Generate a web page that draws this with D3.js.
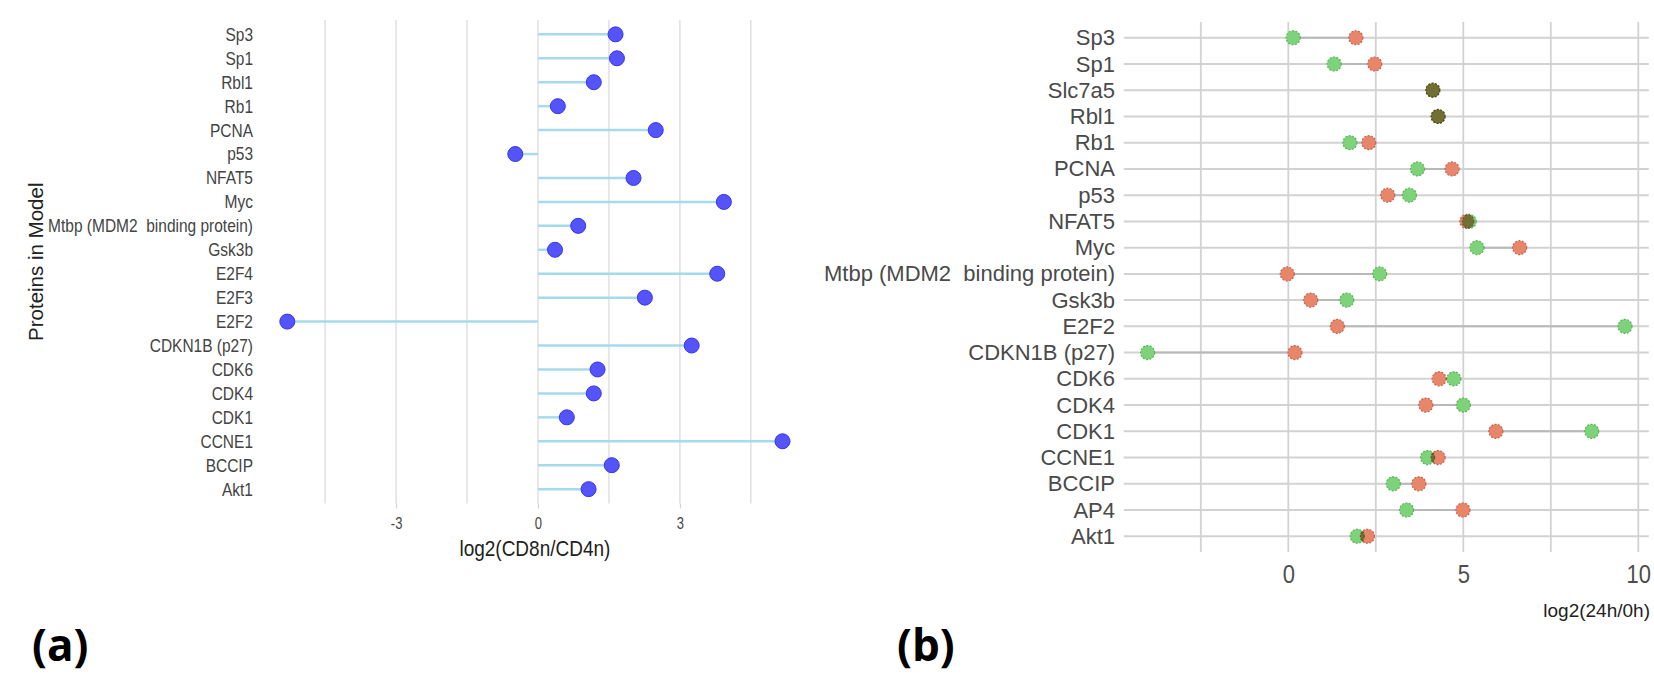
<!DOCTYPE html>
<html>
<head>
<meta charset="utf-8">
<script src="https://cdn.jsdelivr.net/npm/d3@7"></script>
<style>
  body { margin: 0; background: #fff; }
  svg { font-family: "Liberation Sans", Arial, sans-serif; }
</style>
</head>
<body>
<div id="chart"></div>
<script>
// panel (a): lollipop of log2(CD8n/CD4n)
const proteinsA = ["Sp3", "Sp1", "Rbl1", "Rb1", "PCNA", "p53", "NFAT5", "Myc",
    "Mtbp (MDM2  binding protein)", "Gsk3b", "E2F4", "E2F3", "E2F2", "CDKN1B (p27)",
    "CDK6", "CDK4", "CDK1", "CCNE1", "BCCIP", "Akt1"]
const ratioA = [1.64, 1.67, 1.18, 0.42, 2.49, -0.48, 2.02, 3.93, 0.85, 0.36,
    3.79, 2.26, -5.30, 3.25, 1.26, 1.18, 0.61, 5.17, 1.56, 1.07]
const ticksA = [-3, 0, 3]
const gridA = [-4.5, -3, -1.5, 0, 1.5, 3, 4.5]

// panel (b): dumbbell of log2(24h/0h)
const proteinsB = ["Sp3", "Sp1", "Slc7a5", "Rbl1", "Rb1", "PCNA", "p53", "NFAT5", "Myc",
    "Mtbp (MDM2  binding protein)", "Gsk3b", "E2F2", "CDKN1B (p27)", "CDK6", "CDK4",
    "CDK1", "CCNE1", "BCCIP", "AP4", "Akt1"]
const greenB = [0.14, 1.31, 4.13, 4.28, 1.76, 3.69, 3.46, 5.17, 5.39, 2.61,
    1.67, 9.62, -4.02, 4.73, 5.00, 8.67, 3.98, 3.00, 3.38, 1.97]
const redB = [1.93, 2.47, 4.13, 4.28, 2.30, 4.68, 2.84, 5.10, 6.61, -0.03,
    0.64, 1.40, 0.19, 4.31, 3.93, 5.93, 4.28, 3.73, 4.99, 2.26]
const ticksB = [0, 5, 10]
const gridB = [-2.5, 0, 2.5, 5, 7.5, 10]

const width = 1654, height = 675

const svg = d3.select("#chart").append("svg")
    .attr("width", width)
    .attr("height", height)

// ---- panel (a)
const xA = d3.scaleLinear().domain([-5.82, 5.69]).range([262.7, 807.1])
const yA = d3.scalePoint().domain(proteinsA).range([20, 503.5]).padding(0.6)
const [topA, bottomA] = yA.range()

svg.append("g")
    .selectAll("line")
    .data(gridA)
    .join("line")
    .attr("x1", d => xA(d)).attr("x2", d => xA(d))
    .attr("y1", topA).attr("y2", bottomA)
    .attr("stroke", "#e2e2e2")
    .attr("stroke-width", 1.6)

const rowsA = proteinsA.map((name, i) => ({ name, value: ratioA[i] }))

svg.append("g")
    .selectAll("line")
    .data(rowsA)
    .join("line")
    .attr("x1", xA(0)).attr("x2", d => xA(d.value))
    .attr("y1", d => yA(d.name)).attr("y2", d => yA(d.name))
    .attr("stroke", "#a6daef")
    .attr("stroke-width", 2.5)

svg.append("g")
    .selectAll("circle")
    .data(rowsA)
    .join("circle")
    .attr("cx", d => xA(d.value))
    .attr("cy", d => yA(d.name))
    .attr("r", 7.5)
    .attr("fill", "#5454fa")
    .attr("stroke", "#3535f2")
    .attr("stroke-width", 1)

svg.append("g")
    .attr("transform", "translate(253,0)")
    .call(d3.axisLeft(yA).tickSize(0).tickPadding(0))
    .call(g => g.select(".domain").remove())
    .call(g => g.selectAll("text")
        .attr("font-size", 15.5)
        .attr("fill", "#444")
        .style("white-space", "pre")
        .attr("transform", "scale(1,1.2)"))

svg.append("g")
    .attr("transform", `translate(0,${bottomA})`)
    .call(d3.axisBottom(xA).tickValues(ticksA).tickSize(5).tickPadding(7).tickFormat(d => String(d)))
    .call(g => g.select(".domain").remove())
    .call(g => g.selectAll(".tick line").attr("stroke", "#cfcfcf"))
    .call(g => g.selectAll("text")
        .attr("font-size", 13)
        .attr("fill", "#444")
        .attr("transform", "scale(1,1.2)"))

svg.append("text")
    .attr("transform", `translate(${d3.mean(xA.range())},556) scale(1,1.15)`)
    .attr("text-anchor", "middle")
    .attr("font-size", 19)
    .attr("fill", "#222")
    .text("log2(CD8n/CD4n)")

svg.append("text")
    .attr("transform", `translate(36,${(topA + bottomA) / 2}) rotate(-90)`)
    .attr("text-anchor", "middle")
    .attr("dy", "0.36em")
    .attr("font-size", 20.5)
    .attr("fill", "#222")
    .text("Proteins in Model")

// ---- panel (b)
const xB = d3.scaleLinear().domain([-4.70, 10.30]).range([1123.8, 1648.8])
const yB = d3.scalePoint().domain(proteinsB).range([22, 552]).padding(0.6)
const [topB, bottomB] = yB.range()
const [leftB, rightB] = xB.range()

svg.append("g")
    .selectAll("line")
    .data(gridB)
    .join("line")
    .attr("x1", d => xB(d)).attr("x2", d => xB(d))
    .attr("y1", topB).attr("y2", bottomB)
    .attr("stroke", "#d2d2d2")
    .attr("stroke-width", 1.8)

svg.append("g")
    .selectAll("line")
    .data(proteinsB)
    .join("line")
    .attr("x1", leftB).attr("x2", rightB)
    .attr("y1", d => yB(d)).attr("y2", d => yB(d))
    .attr("stroke", "#d2d2d2")
    .attr("stroke-width", 2)

const rowsB = proteinsB.map((name, i) => ({ name, green: greenB[i], red: redB[i] }))

svg.append("g")
    .selectAll("line")
    .data(rowsB)
    .join("line")
    .attr("x1", d => xB(d.green)).attr("x2", d => xB(d.red))
    .attr("y1", d => yB(d.name)).attr("y2", d => yB(d.name))
    .attr("stroke", "#b8b8b8")
    .attr("stroke-width", 2)

const dots = svg.append("g").style("isolation", "isolate")

dots.append("g")
    .selectAll("circle")
    .data(rowsB)
    .join("circle")
    .attr("cx", d => xB(d.green))
    .attr("cy", d => yB(d.name))
    .attr("r", 7)
    .attr("fill", "#7ed27a")
    .attr("stroke", "#56b553")
    .attr("stroke-width", 1.2)
    .attr("stroke-dasharray", "2,1.5")

dots.append("g")
    .style("mix-blend-mode", "multiply")
    .selectAll("circle")
    .data(rowsB)
    .join("circle")
    .attr("cx", d => xB(d.red))
    .attr("cy", d => yB(d.name))
    .attr("r", 7)
    .attr("fill", "#e8866c")
    .attr("stroke", "#c8624c")
    .attr("stroke-width", 1.2)
    .attr("stroke-dasharray", "2,1.5")

svg.append("g")
    .attr("transform", "translate(1115,0)")
    .call(d3.axisLeft(yB).tickSize(0).tickPadding(0))
    .call(g => g.select(".domain").remove())
    .call(g => g.selectAll("text")
        .attr("font-size", 22)
        .attr("fill", "#4a4a4a")
        .style("white-space", "pre"))

svg.append("g")
    .attr("transform", `translate(0,${bottomB})`)
    .call(d3.axisBottom(xB).tickValues(ticksB).tickSize(0).tickPadding(11).tickFormat(d => String(d)))
    .call(g => g.select(".domain").remove())
    .call(g => g.selectAll("text")
        .attr("font-size", 22)
        .attr("fill", "#4d4d4d")
        .attr("transform", "scale(1,1.15)"))

svg.append("text")
    .attr("x", 1650)
    .attr("y", 617)
    .attr("text-anchor", "end")
    .attr("font-size", 19)
    .attr("fill", "#222")
    .text("log2(24h/0h)")

// panel letters
svg.selectAll("text.panel")
    .data([{ label: "(a)", x: 32 }, { label: "(b)", x: 897 }])
    .join("text")
    .attr("class", "panel")
    .attr("x", d => d.x)
    .attr("y", 661)
    .attr("font-family", "'Open Sans', sans-serif")
    .attr("font-weight", "bold")
    .attr("font-size", 44)
    .attr("fill", "#000")
    .text(d => d.label)
</script>
</body>
</html>
